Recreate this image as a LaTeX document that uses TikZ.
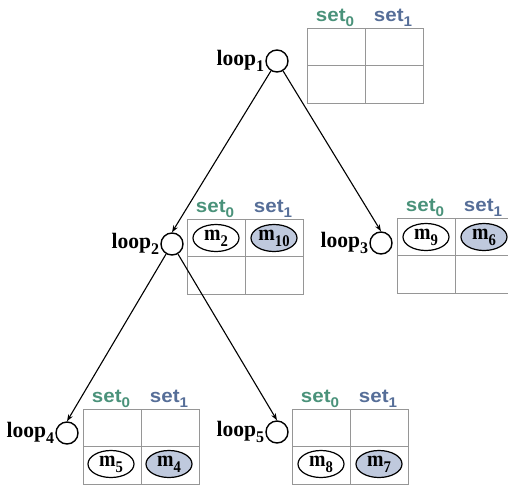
\documentclass[tikz,border=0pt]{standalone}
\usepackage{fontspec}
\setmainfont{Liberation Serif}
\newfontfamily\loopfont[FakeStretch=0.98]{Liberation Serif}
\newfontfamily\entryfont[FakeStretch=0.9]{Liberation Serif}
\newfontfamily\setfont[FakeStretch=1.08]{Liberation Sans}
\usetikzlibrary{arrows.meta, shapes, positioning}
\usepackage{xcolor}
\definecolor{setzerogreen}{RGB}{74,146,122}
\definecolor{setoneblue}{RGB}{86,110,152}
\definecolor{cellgray}{RGB}{150,150,150}
\definecolor{hitblue}{RGB}{191,201,221}
\newcommand\lowsub[1]{\raisebox{-0.28em}{\fontsize{0.74em}{1em}\selectfont #1}}
\tikzset{loopnode/.style={circle, draw=black, line width=1.4pt, minimum size=22pt, inner sep=0pt},
looplabel/.style={font=\loopfont\bfseries\fontsize{22}{24}\selectfont, inner sep=1pt}}
\tikzset{missnode/.style={ellipse, draw=black, line width=1.2pt, minimum width=46pt, minimum height=27pt, inner sep=0pt, font=\entryfont\bfseries\fontsize{22}{24}\selectfont},
hitnode/.style={missnode, fill=hitblue}}

\begin{document}
\begin{tikzpicture}[
        x=1pt, y=-1pt,
        cellline/.style={draw=cellgray, line width=0.8pt},
        setzerolabel/.style={font=\setfont\bfseries\fontsize{19}{21}\selectfont, text=setzerogreen, inner sep=1pt},
        setonelabel/.style={font=\setfont\bfseries\fontsize{19}{21}\selectfont, text=setoneblue, inner sep=1pt},
        edge/.style={-{Stealth[length=7pt, width=5pt]}, line width=1.1pt}
    ]
        \useasboundingbox (0,0) rectangle (508,485);
        % Tables with their set headers
        \foreach \x/\y/\t in {
            307/28/a,
            187/219/b,
            397/218/c,
            83/409/d,
            292/409/e} {
            \draw[cellline] (\x,\y) rectangle ++(116,75);
            \draw[cellline] (\x+58,\y) -- ++(0,75);
            \draw[cellline] (\x,\y+37.5) -- ++(116,0);
            \node[setzerolabel, above] (set0\t) at (\x+28,\y) {set\lowsub{0}};
            \node[setonelabel, above] (set1\t) at (\x+86,\y) {set\lowsub{1}};
        }
        % Loops
        \node[loopnode, label={[looplabel]left:loop\lowsub{1}}] (loop1) at (277,61) {};
        \node[loopnode, label={[looplabel]left:loop\lowsub{2}}] (loop2) at (172,244) {};
        \node[loopnode, label={[looplabel]left:loop\lowsub{3}}] (loop3) at (381,243) {};
        \node[loopnode, label={[looplabel]left:loop\lowsub{4}}] (loop4) at (67,433) {};
        \node[loopnode, label={[looplabel]left:loop\lowsub{5}}] (loop5) at (277,432) {};
        % Mapped entries
        \node[missnode] (m2) at (216,238) {m\lowsub{2}};
        \node[hitnode] (m10) at (274,238) {m\lowsub{10}};
        \node[missnode] (m9) at (426,237) {m\lowsub{9}};
        \node[hitnode] (m6) at (484,237) {m\lowsub{6}};
        \node[missnode] (m5) at (111,464) {m\lowsub{5}};
        \node[hitnode] (m4) at (169,464) {m\lowsub{4}};
        \node[missnode] (m8) at (321,464) {m\lowsub{8}};
        \node[hitnode] (m7) at (379,464) {m\lowsub{7}};
        % Edges
        \draw[edge] (loop1) -- (loop2.north);
        \draw[edge] (loop1) -- (loop3.north);
        \draw[edge] (loop2) -- (loop4.north);
        \draw[edge] (loop2) -- (loop5.north);
    \end{tikzpicture}
\end{document}
